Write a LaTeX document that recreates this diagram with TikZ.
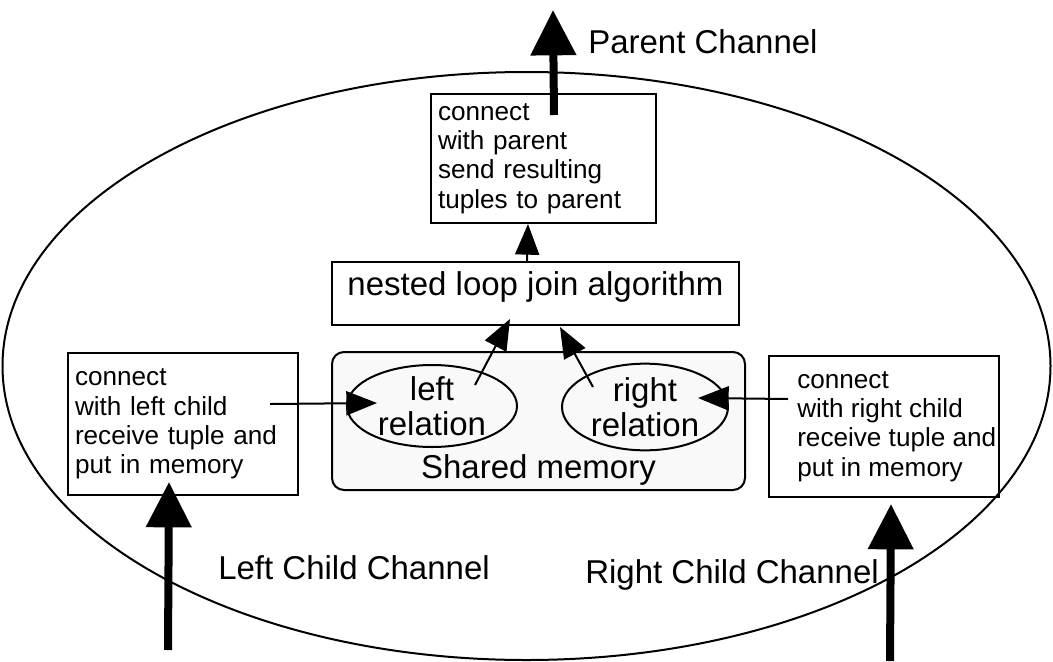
\documentclass[tikz,border=0pt]{standalone}
\usepackage{fontspec}
\setmainfont{Liberation Sans}
\usetikzlibrary{arrows.meta}
\usetikzlibrary{calc}
\usetikzlibrary{shapes}

\begin{document}
\begin{tikzpicture}[x=0.75pt,y=0.75pt,yscale=-1,xscale=1,
  bigfont/.style={font=\fontsize{24.75}{26.25}\selectfont},
  smallfont/.style={font=\fontsize{19.6}{22}\selectfont},
  taskbox/.style={draw, line width=1.5pt, rectangle, anchor=north west, align=left, smallfont},
  relnode/.style={draw, line width=1.5pt, ellipse, inner sep=-1pt, align=center, bigfont},
  chanlabel/.style={anchor=west, inner sep=0pt, bigfont},
  thinarrow/.style={line width=1.5pt, -{Triangle[length=23pt,width=18pt]}},
  bigarrow/.style={line width=6pt, -{Triangle[length=34pt,width=33pt]}}]
\useasboundingbox (0,0) rectangle (1053,661);

%Shape: Ellipse
\draw [line width=1.5pt] (526.5,366) ellipse [x radius=524, y radius=294];

%Shape: Rectangle (parent side)
\node [taskbox, text width=158.25pt, inner xsep=5.25pt, minimum height=96.75pt] (parent) at (430,93)
  {connect\\with parent\\send resulting\\tuples to parent};

%Shape: Rectangle (join)
\node [draw, line width=1.5pt, minimum width=305.25pt, minimum height=47.25pt, text depth=15pt, bigfont] (nested) at (535.5,293.5)
  {nested loop join algorithm};

%Shape: Rounded Rectangle (shared memory)
\node [draw, line width=1.5pt, rounded corners=9pt, fill=gray!5, minimum width=309.75pt, minimum height=103.5pt,
  label={[anchor=south, inner sep=3.75pt, bigfont]south:Shared memory}] (shm) at (538.5,421) {};

%Shape: Ellipses
\node [relnode, minimum width=127.5pt, minimum height=61.5pt] (lrel) at (432,406) {left\\relation};
\node [relnode, minimum width=124.5pt, minimum height=65pt] (rrel) at (645,407) {right\\relation};

%Shape: Rectangle (left child)
\node [taskbox, text width=162pt, inner xsep=5.25pt, minimum height=106.5pt] (lchild) at (67,352)
  {connect\\with left child\\receive tuple and\\put in memory};

%Shape: Rectangle (right child)
\node [draw, line width=1.5pt, rectangle, anchor=north west, minimum width=172.5pt, minimum height=105.75pt] (rchild) at (768,355) {};
\node [anchor=west, inner sep=0pt, align=left, smallfont] (rtext) at ($(rchild.west)+(29,0)$)
  {connect\\with right child\\receive tuple and\\put in memory};

%Straight Lines
\draw [thinarrow] ($(lchild.east)+(-29,-20)$) -- ($(lrel.west)+(31,-3)$);
\draw [thinarrow] ($(rchild.west)+(20,-27.5)$) -- ($(rrel.east)+(-31,-9)$);
\draw [thinarrow] ($(lrel.center)+(43,-21)$) -- ($(nested.south)+(-25.5,-7)$);
\draw [thinarrow] ($(rrel.center)+(-52,-20)$) -- ($(nested.south)+(24.5,1)$);
\draw [thinarrow] ($(nested.north)+(-8.5,0)$) -- ($(parent.south)+(-15.5,0)$);

%Channels
\coordinate (pcout) at (553,10);
\coordinate (lcin) at (168,650);
\coordinate (rcin) at (890,661);
\draw [bigarrow] ($(parent.north)+(10.5,22)$) -- (pcout);
\draw [bigarrow] (lcin) -- ($(lchild.south)+(-14,-14)$);
\draw [bigarrow] (rcin) -- ($(rchild.south)+(7,6)$);

\node [chanlabel] (pclbl) at (588,42) {Parent Channel};
\node [chanlabel] (lclbl) at (218,568) {Left Child Channel};
\node [chanlabel] (rclbl) at (585,575) {Right Child Channel};

\end{tikzpicture}
\end{document}
